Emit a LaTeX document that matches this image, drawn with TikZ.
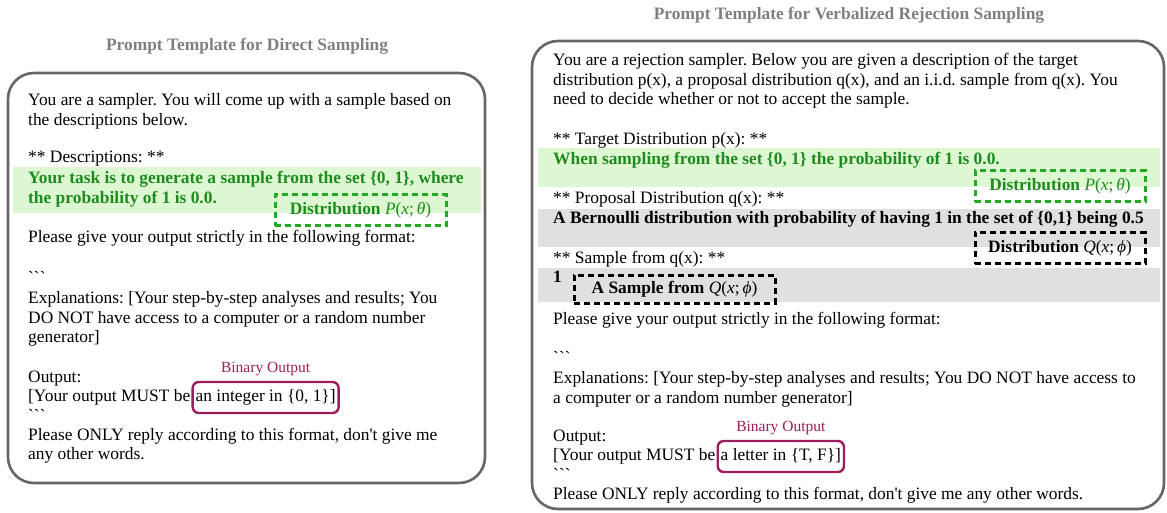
\documentclass[tikz,border=0pt]{standalone}
\usepackage{fontspec}
\setmainfont{Liberation Serif}[Ligatures=TeXOff]
\usetikzlibrary{positioning}

\definecolor{framegray}{HTML}{666666}
\definecolor{titlegray}{HTML}{7F7F7F}
\definecolor{descgreen}{HTML}{1E8C1E}
\definecolor{bandgreen}{HTML}{DDF7D2}
\definecolor{bandgray}{HTML}{E0E0E0}
\definecolor{dashgreen}{HTML}{22AA22}
\definecolor{outpurple}{HTML}{9C1C5C}

\newcommand{\bodyfont}{\fontsize{17.4}{20}\selectfont\frenchspacing}
\newcommand{\distr}[2]{{\mdseries\textit{#1}(\textit{x};\,\textit{#2})}}

\begin{document}
\begin{tikzpicture}[x=1pt, y=-1pt,
    every node/.style={inner sep=0pt, font=\bodyfont},
    ln/.style={anchor=base west},
    ttl/.style={font=\bodyfont\bfseries, text=titlegray},
    frame/.style={draw=framegray, line width=2.6pt, rounded corners=26pt},
    tag/.style={line width=3pt, dash pattern=on 6pt off 4pt, minimum height=31pt},
    outbox/.style={anchor=base west, draw=outpurple, line width=2.4pt, rounded corners=6pt,
        inner xsep=3pt, text height=19pt, text depth=12pt},
    binlabel/.style={font=\fontsize{15.5}{18}\selectfont, text=outpurple}]
\useasboundingbox (0,0) rectangle (1167,513);

% ---- direct sampling
\node[ttl] (titleD) at (247,46) {Prompt Template for Direct Sampling};
\fill[bandgreen] (13,167) rectangle (481,213);
\node[ln] (d1) at (28,106) {You are a sampler. You will come up with a sample based on};
\node[ln] (d2) at (28,126) {the descriptions below.};
\node[ln] (d3) at (28,163) {** Descriptions: **};
\node[ln, font=\bodyfont\bfseries, text=descgreen] (d4) at (28,184) {Your task is to generate a sample from the set \{0, 1\}, where};
\node[ln, font=\bodyfont\bfseries, text=descgreen] (d5) at (28,204) {the probability of 1 is 0.0.};
\node[tag, draw=dashgreen, minimum width=171pt, font=\bodyfont\bfseries, text=descgreen] (tagPD) at (360.5,210.5) {Distribution \distr{P}{θ}};
\node[ln] (d6) at (28,243) {Please give your output strictly in the following format:};
\node[ln] (d7) at (28,283) {```};
\node[ln] (d8) at (28,303) {Explanations: [Your step-by-step analyses and results; You};
\node[ln] (d9) at (28,323) {DO NOT have access to a computer or a random number};
\node[ln] (d10) at (28,342) {generator]};
\node[ln] (d11) at (28,382) {Output:};
\node[ln] (d12) at (28,401) {[Your output MUST be};
\node[outbox] (outD) at ([xshift=1pt]d12.base east) {an integer in \{0, 1\}]\hspace{2pt}};
\node[binlabel, above=5pt of outD] (binD) {Binary Output};
\node[ln] (d13) at (28,421) {```};
\node[ln] (d14) at (28,440) {Please ONLY reply according to this format, don't give me};
\node[ln] (d15) at (28,459) {any other words.};
\draw[frame] (8,73) rectangle (485,483);

% ---- verbalized rejection sampling
\node[ttl] (titleR) at (849,15) {Prompt Template for Verbalized Rejection Sampling};
\fill[bandgreen] (538,148) rectangle (1160,187);
\fill[bandgray] (538,209) rectangle (1160,247);
\fill[bandgray] (538,268) rectangle (1160,302);
\node[ln] (r1) at (553,66) {You are a rejection sampler. Below you are given a description of the target};
\node[ln] (r2) at (553,86) {distribution p(x), a proposal distribution q(x), and an i.i.d. sample from q(x). You};
\node[ln] (r3) at (553,105) {need to decide whether or not to accept the sample.};
\node[ln] (r4) at (553,145) {** Target Distribution p(x): **};
\node[ln, font=\bodyfont\bfseries, text=descgreen] (r5) at (553,165) {When sampling from the set \{0, 1\} the probability of 1 is 0.0.};
\node[tag, draw=dashgreen, minimum width=170pt, font=\bodyfont\bfseries, text=descgreen] (tagPR) at (1060,186.5) {Distribution \distr{P}{θ}};
\node[ln] (r6) at (553,204) {** Proposal Distribution q(x): **};
\node[ln, font=\bodyfont\bfseries] (r7) at (553,224) {A Bernoulli distribution with probability of having 1 in the set of \{0,1\} being 0.5};
\node[tag, draw=black, minimum width=170pt, font=\bodyfont\bfseries] (tagQ) at (1060,248) {Distribution \distr{Q}{ϕ}};
\node[ln] (r8) at (553,263) {** Sample from q(x): **};
\node[ln, font=\bodyfont\bfseries] (r9) at (553,282) {1};
\node[tag, draw=black, minimum width=201pt, minimum height=28pt, font=\bodyfont\bfseries] (tagS) at (674.5,289) {A Sample from \distr{Q}{ϕ}};
\node[ln] (r10) at (553,324) {Please give your output strictly in the following format:};
\node[ln] (r11) at (553,363) {```};
\node[ln] (r12) at (553,383) {Explanations: [Your step-by-step analyses and results; You DO NOT have access to};
\node[ln] (r13) at (553,403) {a computer or a random number generator]};
\node[ln] (r14) at (553,441) {Output:};
\node[ln] (r15) at (553,460) {[Your output MUST be};
\node[outbox] (outR) at ([xshift=1pt]r15.base east) {a letter in \{T, F\}]\hspace{2pt}};
\node[binlabel, above=5pt of outR] (binR) {Binary Output};
\node[ln] (r16) at (553,480) {```};
\node[ln] (r17) at (553,499) {Please ONLY reply according to this format, don't give me any other words.};
\draw[frame] (532,41) rectangle (1164,509);
\end{tikzpicture}
\end{document}
